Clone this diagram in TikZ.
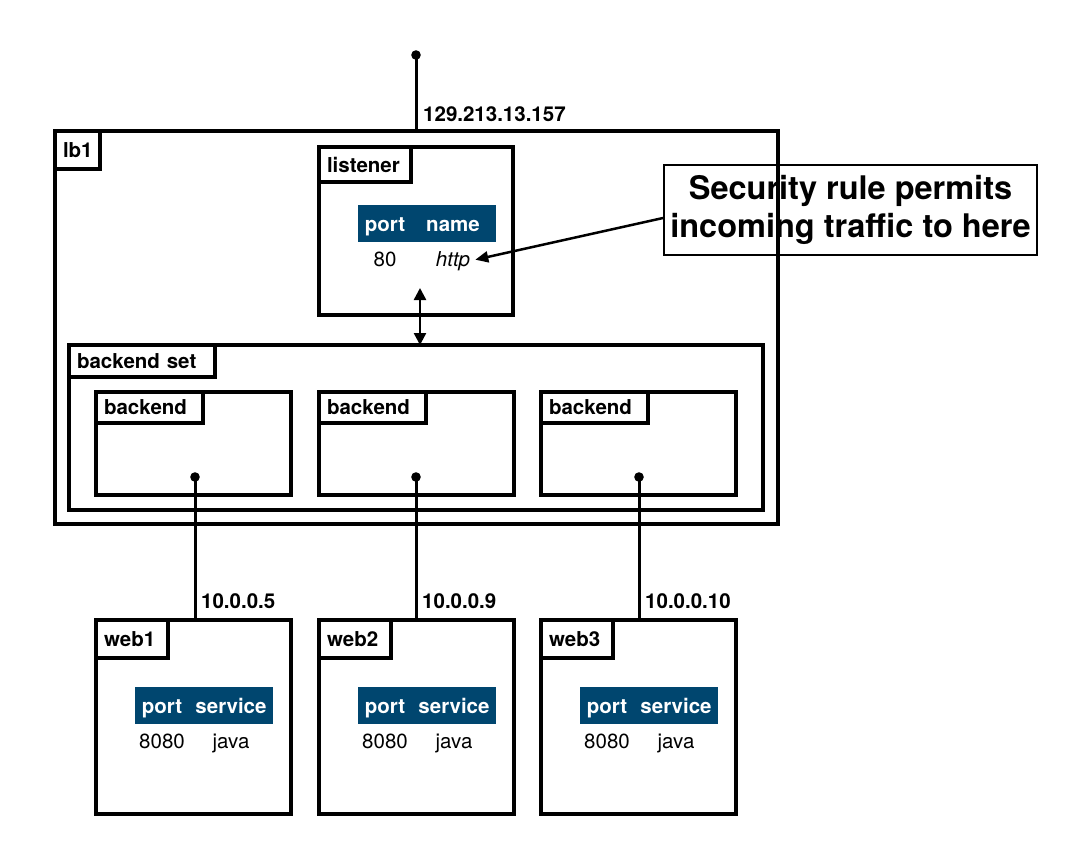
\documentclass[tikz,border=0pt]{standalone}
\usepackage{fontspec}
\setmainfont{TeX Gyre Heros}
\usetikzlibrary{arrows.meta}
\definecolor{hdr}{HTML}{00466F}
\begin{document}
\begin{tikzpicture}[x=1pt,y=-1pt,
  box/.style={draw, line width=3.5pt, inner sep=0pt, outer sep=0pt, anchor=north west},
  tab/.style={draw, line width=3.5pt, outer sep=0pt, anchor=north west, inner xsep=8pt, inner ysep=0pt,
    align=left, font=\fontsize{20.5}{24}\selectfont\bfseries},
  lbl/.style={inner sep=0pt, anchor=base west, font=\fontsize{20.5}{24}\selectfont\bfseries},
  hdrbox/.style={fill=hdr, inner sep=0pt, outer sep=0pt, anchor=north west, minimum width=138pt, minimum height=37pt},
  hdrtxt/.style={text=white, inner sep=0pt, anchor=base, font=\fontsize{20.5}{24}\selectfont\bfseries},
  val/.style={inner sep=0pt, anchor=base, font=\fontsize{20.5}{24}\selectfont},
  wire/.style={line width=3pt},
  arr/.style={line width=2.5pt, -{Triangle[length=13pt,width=11pt]}},
  darr/.style={line width=2.5pt, {Triangle[length=12pt,width=12pt]}-{Triangle[length=12pt,width=12pt]}},
  dot/.style={fill=black}
]
\useasboundingbox (0,0) rectangle (1078,865);

% lb1
\node[box, minimum width=723pt, minimum height=393pt] (lb1) at (55,131) {};
\node[tab, text width=29pt, minimum height=38pt] (lb1tab) at (55,131) {lb1};

% listener
\node[box, minimum width=194pt, minimum height=168pt] (listener) at (319,147) {};
\node[tab, text width=76pt, minimum height=35pt] (listab) at (319,147) {listener};
\node[hdrbox] (lhdr) at (358,205) {};
\node[hdrtxt] (lport) at (385,231) {port};
\node[hdrtxt] (lname) at (453,231) {name};
\node[val] (l80) at (385,266) {80};
\node[val, inner xsep=5pt] (http) at (453,266) {\itshape http};

% backend set
\node[box, minimum width=694pt, minimum height=165pt] (bset) at (69,345) {};
\node[tab, text width=130pt, minimum height=32pt] (bsettab) at (69,345) {backend set};

% backends
\foreach \i/\x in {1/96,2/319,3/541}{
  \node[box, minimum width=195pt, minimum height=103pt] (be\i) at (\x,392) {};
  \node[tab, text width=91pt, minimum height=31pt] (betab\i) at (\x,392) {backend};
}

% web servers
\foreach \i/\x in {1/96,2/319,3/541}{
  \node[box, minimum width=195pt, minimum height=194pt] (web\i) at (\x,620) {};
  \node[tab, text width=56pt, minimum height=38pt] (webtab\i) at (\x,620) {web\i};
  \node[hdrbox] (whdr\i) at (\x+39,687) {};
  \node[hdrtxt] (wport\i) at (\x+66,713) {port};
  \node[hdrtxt] (wserv\i) at (\x+135,713) {service};
  \node[val] (w8080\i) at (\x+66,748) {8080};
  \node[val] (wjava\i) at (\x+135,748) {java};
}

% callout
\node[draw, line width=2pt, minimum width=373pt, minimum height=90pt, align=center, inner sep=0pt,
  font=\fontsize{32.5}{38}\selectfont\bfseries] (callout) at (850.5,210)
  {Security rule permits\\incoming traffic to here};

% external connector
\coordinate (ext) at (416,55);
\draw[wire] (ext) -- (ext |- lb1.north);
\fill[dot] (ext) circle (4.8pt);
\node[lbl] (extip) at (423,121) {129.213.13.157};

% security rule arrow
\draw[arr] ([yshift=-8pt]callout.west) -- ([yshift=1pt]http.east);

% listener <-> backend set
\coordinate (lsb) at (420,288);
\draw[darr] (lsb) -- (lsb |- bset.north);

% backend to web connectors
\foreach \i/\x/\ip in {1/195/10.0.0.5,2/416/10.0.0.9,3/639/10.0.0.10}{
  \coordinate (d\i) at (\x,477);
  \draw[wire] (d\i) -- (d\i |- web\i.north);
  \fill[dot] (d\i) circle (4.8pt);
  \node[lbl] (ip\i) at (\x+6,608) {\ip};
}
\end{tikzpicture}
\end{document}
